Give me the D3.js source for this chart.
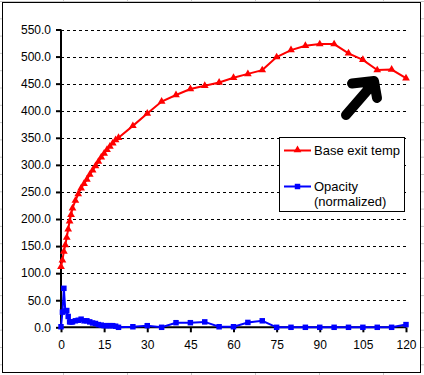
<!DOCTYPE html>
<meta charset="utf-8">
<script src="https://d3js.org/d3.v7.min.js"></script>
<style>
  body { margin: 0; background: #fff; }
  text { font-family: "Liberation Sans", Arial, sans-serif; fill: #000; }
</style>
<div id="my_dataviz"></div>
<script>

// time in minutes (shared by both series)
var minutes = [0, 0.5, 1, 1.5, 2, 2.5, 3, 3.5, 4, 5, 6, 7, 8, 9, 10, 11, 12, 13, 14, 15,
  16, 17, 18, 19, 20, 25, 30, 35, 40, 45, 50, 55, 60, 65, 70, 75, 80, 85, 90, 95,
  100, 105, 110, 115, 120];

var baseExitTemp = [112, 124, 140, 152, 166, 181, 196, 208, 220, 234, 246, 257, 265, 273, 282,
  290, 298, 306, 314, 321, 328, 334, 340, 346, 350, 372, 395, 417, 429, 440,
  446, 452, 461, 468, 475, 499, 512, 520, 523, 523, 506, 494, 475, 476, 460];

var opacity = [1, 28, 72, 30, 31, 20, 10, 10, 10, 12, 13, 15, 12, 12, 10,
  8, 7, 5, 4, 3, 3, 3, 3, 2, 0, 1, 3, 0, 8.5, 8.5,
  10, 1, 1, 9, 12, 0, 0, 0, 0, 0, 0, 0, 0, 0, 5];

var xTicks = [0, 15, 30, 45, 60, 75, 90, 105, 120];
var yTicks = [0, 50, 100, 150, 200, 250, 300, 350, 400, 450, 500, 550];

var W = 424, H = 375;

var svg = d3.select("#my_dataviz")
  .append("svg")
    .attr("width", W)
    .attr("height", H);

// faint spreadsheet cells behind the chart
var bg = svg.append("g").attr("stroke", "#c8c8c8").attr("stroke-width", 1);
d3.range(63.5, W, 64).forEach(function(x) {
  bg.append("line").attr("x1", x).attr("x2", x).attr("y1", 0).attr("y2", H);
});
d3.range(1.5, H, 17.3).forEach(function(y) {
  bg.append("line").attr("x1", 0).attr("x2", W).attr("y1", y).attr("y2", y);
});

// chart area
svg.append("rect")
  .attr("x", 2.5).attr("y", 2.5)
  .attr("width", 418).attr("height", 370)
  .attr("fill", "#fff")
  .attr("stroke", "#000");

var x = d3.scaleLinear().domain([0, 120]).range([61, 406]);
var y = d3.scaleLinear().domain([0, 550]).range([327.3, 29.5]);

// dashed gridlines
svg.append("g")
  .selectAll("line")
  .data(yTicks.filter(function(d) { return d > 0; }))
  .join("line")
    .attr("x1", x(0)).attr("x2", x(120))
    .attr("y1", function(d) { return Math.round(y(d)) + 0.5; })
    .attr("y2", function(d) { return Math.round(y(d)) + 0.5; })
    .attr("stroke", "#000")
    .attr("stroke-dasharray", "3,3");

// axes
var yAxis = svg.append("g")
  .attr("transform", "translate(" + x(0) + ",0)")
  .call(d3.axisLeft(y).tickValues(yTicks).tickFormat(d3.format(".1f")).tickSize(5).tickPadding(5));
var xAxis = svg.append("g")
  .attr("transform", "translate(0," + y(0) + ")")
  .call(d3.axisBottom(x).tickValues(xTicks).tickSize(5).tickPadding(8));

[yAxis, xAxis].forEach(function(a) {
  a.select(".domain").attr("stroke", "#000").attr("stroke-width", 2);
  a.selectAll(".tick line").attr("stroke", "#000").attr("stroke-width", 2);
  a.selectAll("text").style("font-size", "12px").attr("fill", "#000");
});
xAxis.select(".domain").attr("d", "M" + x(0) + ",0H" + x(120));
yAxis.select(".domain").attr("d", "M0," + y(0) + "V" + y(550));

var line = d3.line()
  .x(function(d) { return x(d[0]); })
  .y(function(d) { return y(d[1]); });

var redPts = minutes.map(function(m, i) { return [m, baseExitTemp[i]]; });
var bluePts = minutes.map(function(m, i) { return [m, opacity[i]]; });

var tri = d3.symbol().type(d3.symbolTriangle).size(26);
var sq = d3.symbol().type(d3.symbolSquare).size(30);

// opacity series
svg.append("path")
  .datum(bluePts)
  .attr("d", line)
  .attr("fill", "none")
  .attr("stroke", "#0000ff")
  .attr("stroke-width", 2);
svg.append("g")
  .selectAll("path")
  .data(bluePts)
  .join("path")
    .attr("d", sq)
    .attr("transform", function(d) { return "translate(" + x(d[0]) + "," + y(d[1]) + ")"; })
    .attr("fill", "#0000ff");

// base exit temp series
svg.append("path")
  .datum(redPts)
  .attr("d", line)
  .attr("fill", "none")
  .attr("stroke", "#ff0000")
  .attr("stroke-width", 2);
svg.append("g")
  .selectAll("path")
  .data(redPts)
  .join("path")
    .attr("d", tri)
    .attr("transform", function(d) { return "translate(" + x(d[0]) + "," + y(d[1]) + ")"; })
    .attr("fill", "#ff0000");

// legend
var lg = svg.append("g");
lg.append("rect")
  .attr("x", 279.5).attr("y", 137.5)
  .attr("width", 125).attr("height", 74)
  .attr("fill", "#fff").attr("stroke", "#000");
lg.append("line").attr("x1", 284).attr("x2", 311).attr("y1", 150.5).attr("y2", 150.5)
  .attr("stroke", "#ff0000").attr("stroke-width", 2);
lg.append("path").attr("d", tri).attr("transform", "translate(297.5,150)").attr("fill", "#ff0000");
lg.append("text").attr("x", 314).attr("y", 155).style("font-size", "13px").text("Base exit temp");
lg.append("line").attr("x1", 284).attr("x2", 311).attr("y1", 186.5).attr("y2", 186.5)
  .attr("stroke", "#0000ff").attr("stroke-width", 2);
lg.append("path").attr("d", sq).attr("transform", "translate(297.5,186.5)").attr("fill", "#0000ff");
lg.append("text").attr("x", 314).attr("y", 191).style("font-size", "13px").text("Opacity");
lg.append("text").attr("x", 314).attr("y", 206).style("font-size", "13px").text("(normalized)");

// hand-drawn arrow
svg.append("path")
  .attr("d", "M346,115L372,85M352,83.5L374,81L377,98")
  .attr("fill", "none")
  .attr("stroke", "#000")
  .attr("stroke-width", 10)
  .attr("stroke-linecap", "round")
  .attr("stroke-linejoin", "round");

</script>
